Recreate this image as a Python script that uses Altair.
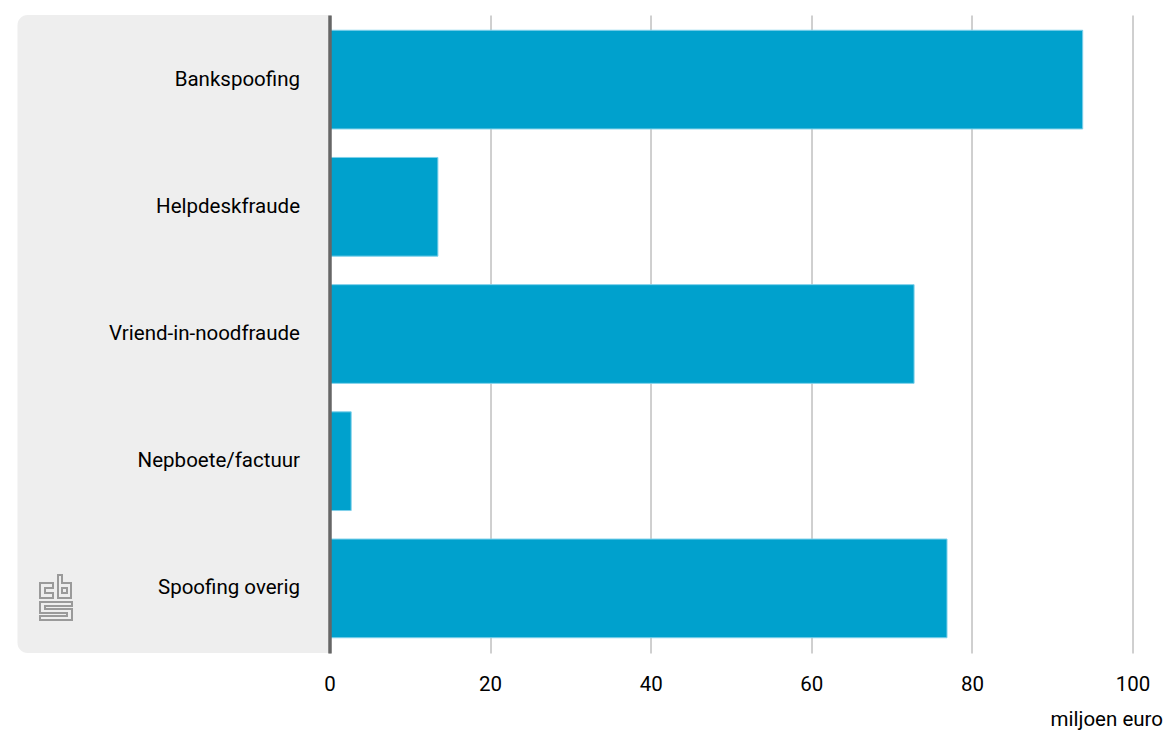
import altair as alt
import pandas as pd

categories = ["Bankspoofing", "Helpdeskfraude", "Vriend-in-noodfraude", "Nepboete/factuur", "Spoofing overig"]
values = [93.8, 13.5, 72.8, 2.7, 76.9]
tick_values = [0, 20, 40, 60, 80, 100]

df = pd.DataFrame({"cat": categories, "val": values})

FONT = "Roboto"
FS = 20.5
W, H = 803, 638

logo_path = (
    "M-16,-17 L-3,-17 L-3,-12 L-11,-12 L-11,-7 L-3,-7 L-3,-2 L-16,-2 Z "
    "M2,-25 L6,-25 L6,-17 L15,-17 L15,-2 L2,-2 Z "
    "M6,-12 L11,-12 L11,-7 L6,-7 Z "
    "M-16,2 L16,2 L16,6 L-11,6 L-11,9 L16,9 L16,20 L-16,20 L-16,16 L11,16 L11,13 L-16,13 Z"
)

base = alt.Chart(df)

panel = base.mark_rect(
    color="#eeeeee",
    cornerRadiusTopLeft=10,
    cornerRadiusBottomLeft=10,
).encode(
    x=alt.value(-312), x2=alt.value(0), y=alt.value(0), y2=alt.value(H)
).transform_filter(alt.datum.cat == categories[0])

logo = base.mark_point(
    shape=logo_path, size=4, filled=False, stroke="#9a9a9a", strokeWidth=2, opacity=1
).encode(
    x=alt.value(-273.5), y=alt.value(585)
).transform_filter(alt.datum.cat == categories[0])

bars = base.mark_bar(color="#00A1CD", stroke="#7fd0ea", strokeWidth=1).encode(
    x=alt.X(
        "val:Q",
        scale=alt.Scale(domain=[0, 100], nice=False),
        axis=alt.Axis(
            values=tick_values,
            grid=True,
            gridColor="#a0a0a0",
            gridWidth=1,
            domain=False,
            ticks=False,
            labelFlush=False,
            labelPadding=21,
            labelFont=FONT,
            labelFontSize=FS,
            labelColor="#000000",
            title="miljoen euro",
            titleFont=FONT,
            titleFontSize=FS,
            titleFontWeight="normal",
            titleColor="#000000",
            titleAlign="right",
            titleAnchor="end",
            titleX=833,
            titleY=72,
            titleBaseline="alphabetic",
        ),
    ),
    y=alt.Y(
        "cat:N",
        sort=categories,
        scale=alt.Scale(paddingInner=0.224, paddingOuter=0.12),
        axis=alt.Axis(
            title=None,
            domain=True,
            domainColor="#666666",
            domainWidth=3.5,
            ticks=False,
            labelPadding=30,
            labelFont=FONT,
            labelFontSize=FS,
            labelColor="#000000",
            labelLimit=400,
            zindex=3,
        ),
    ),
)

chart = (
    alt.layer(panel, logo, bars)
    .properties(width=W, height=H, padding={"left": 9.5, "top": 7, "right": 0, "bottom": 5})
    .configure_view(stroke=None)
)

chart.save("out.html", embed_options={"renderer": "svg", "actions": False})
